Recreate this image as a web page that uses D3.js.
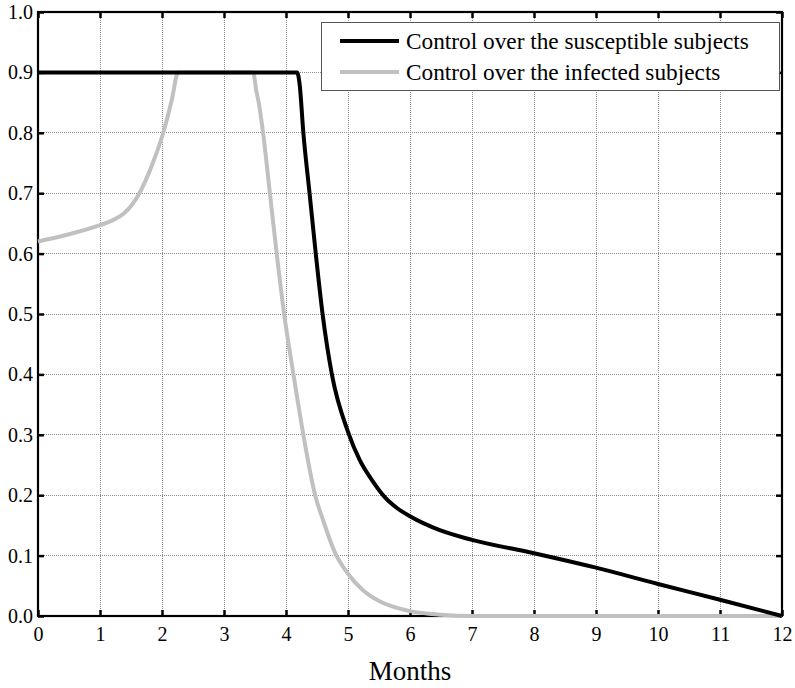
<!DOCTYPE html>
<html>
<head>
<meta charset="utf-8">
<script src="https://cdn.jsdelivr.net/npm/d3@7"></script>
<style>
  html, body { margin: 0; padding: 0; background: #fff; }
  svg { display: block; font-family: "Liberation Serif", "Times New Roman", serif; }
  svg text { font-family: "Liberation Serif", "Times New Roman", serif; }
</style>
</head>
<body>
<svg id="chart" width="795" height="688"></svg>
<script>
// ---- data ----
const xTicks = [0,1,2,3,4,5,6,7,8,9,10,11,12];
const yTicks = [0,0.1,0.2,0.3,0.4,0.5,0.6,0.7,0.8,0.9,1.0];
const seriesNames = ["Control over the susceptible subjects", "Control over the infected subjects"];

const susMonths = [0, 4.18, 4.22, 4.28, 4.38, 4.48, 4.59, 4.74, 5.0, 5.19, 5.4, 5.6, 5.8, 6.0, 6.48, 7, 8, 9, 10, 11, 12];
const susValues = [0.9, 0.9, 0.88, 0.8, 0.7, 0.6, 0.5, 0.4, 0.305, 0.258, 0.223, 0.196, 0.178, 0.165, 0.142, 0.126, 0.104, 0.08, 0.053, 0.027, 0.0];

const infMonths = [0, 0.5, 1, 1.2, 1.38, 1.51, 1.62, 1.74, 1.86, 2.02, 2.155, 2.26, 3.47, 3.52, 3.56, 3.63, 3.74, 3.85, 3.97, 4.12, 4.28, 4.47, 4.6, 4.79, 5.0, 5.25, 5.5, 5.68, 6.0, 6.5, 7, 12];
const infValues = [0.62, 0.632, 0.647, 0.655, 0.666, 0.68, 0.697, 0.722, 0.752, 0.80, 0.853, 0.9, 0.9, 0.87, 0.85, 0.8, 0.7, 0.6, 0.5, 0.4, 0.3, 0.2, 0.158, 0.105, 0.07, 0.042, 0.025, 0.017, 0.008, 0.002, 0.0, 0.0];

// ---- layout ----
const FONT = '"Liberation Serif", "Times New Roman", serif';
const svg = d3.select("#chart");
const L = 38, R = 782, T = 12, B = 616;
const x = d3.scaleLinear().domain([0, 12]).range([L, R]);
const y = d3.scaleLinear().domain([0, 1]).range([B, T]);

// grid
const grid = svg.append("g").attr("stroke", "#8c8c8c").attr("stroke-width", 1)
  .attr("stroke-dasharray", "1,1").attr("shape-rendering", "crispEdges");
grid.selectAll("line.v").data(xTicks.slice(1, -1)).join("line")
  .attr("x1", d => x(d)).attr("x2", d => x(d)).attr("y1", T).attr("y2", B);
grid.selectAll("line.h").data(yTicks.slice(1, -1)).join("line")
  .attr("x1", L).attr("x2", R).attr("y1", d => y(d)).attr("y2", d => y(d));

// axes (inward ticks on all sides)
function styleAxis(g) {
  g.attr("font-family", FONT).attr("font-size", 20);
  g.select(".domain").remove();
  g.selectAll(".tick line").attr("stroke", "#000").attr("stroke-width", 2.5);
  g.selectAll(".tick text").attr("fill", "#000");
}
svg.append("g").attr("transform", `translate(0,${B})`)
  .call(d3.axisBottom(x).tickValues(xTicks).tickFormat(d3.format("d")).tickSizeInner(-6).tickSizeOuter(0).tickPadding(11))
  .call(styleAxis);
svg.append("g").attr("transform", `translate(0,${T})`)
  .call(d3.axisTop(x).tickValues(xTicks).tickFormat("").tickSizeInner(-6).tickSizeOuter(0))
  .call(styleAxis);
svg.append("g").attr("transform", `translate(${L},0)`)
  .call(d3.axisLeft(y).tickValues(yTicks).tickFormat(d3.format(".1f")).tickSizeInner(-6).tickSizeOuter(0).tickPadding(5))
  .call(styleAxis);
svg.append("g").attr("transform", `translate(${R},0)`)
  .call(d3.axisRight(y).tickValues(yTicks).tickFormat("").tickSizeInner(-6).tickSizeOuter(0))
  .call(styleAxis);

// frame
svg.append("rect").attr("x", L).attr("y", T).attr("width", R - L).attr("height", B - T)
  .attr("fill", "none").attr("stroke", "#000").attr("stroke-width", 2.2);

// lines
const line = d3.line().x(d => x(d[0])).y(d => y(d[1])).curve(d3.curveMonotoneX);
const infData = infMonths.map((m, i) => [m, infValues[i]]);
const susData = susMonths.map((m, i) => [m, susValues[i]]);
svg.append("path").datum(infData).attr("d", line)
  .attr("fill", "none").attr("stroke", "#c0c0c0").attr("stroke-width", 4).attr("stroke-linejoin", "round");
svg.append("path").datum(susData).attr("d", line)
  .attr("fill", "none").attr("stroke", "#000").attr("stroke-width", 4).attr("stroke-linejoin", "round");

// legend
const lg = svg.append("g").attr("font-family", FONT);
lg.append("rect").attr("x", 321.5).attr("y", 22.5).attr("width", 458).attr("height", 68)
  .attr("fill", "#fff").attr("stroke", "#555").attr("stroke-width", 1);
const legendColors = ["#000", "#c0c0c0"];
seriesNames.forEach((name, i) => {
  const ly = 41 + i * 31;
  lg.append("line").attr("x1", 340).attr("x2", 399).attr("y1", ly).attr("y2", ly)
    .attr("stroke", legendColors[i]).attr("stroke-width", 4);
  lg.append("text").attr("x", 406).attr("y", ly + 8).text(name)
    .attr("font-size", 23.3).attr("fill", "#000");
});

// axis title
svg.append("text").attr("x", 410).attr("y", 680).attr("text-anchor", "middle")
  .attr("font-family", FONT).attr("font-size", 27).attr("fill", "#000").text("Months");
</script>
</body>
</html>
